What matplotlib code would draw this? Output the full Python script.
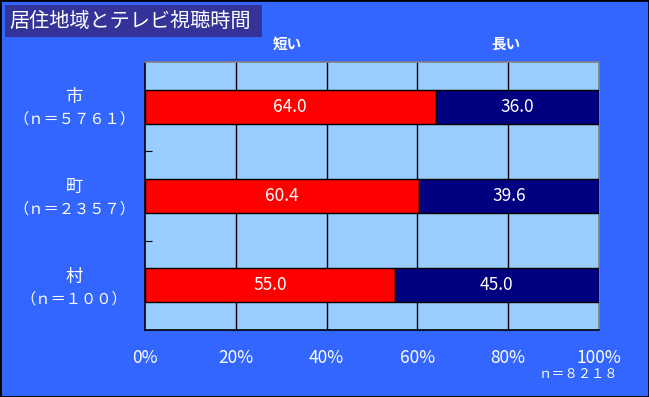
import matplotlib.pyplot as plt
from matplotlib.patches import Rectangle

plt.rcParams['font.family'] = ['Noto Sans CJK JP', 'DejaVu Sans']

# data
areas = ["市", "町", "村"]
counts = ["（ｎ＝５７６１）", "（ｎ＝２３５７）", "（ｎ＝１００）"]
short_vals = [64.0, 60.4, 55.0]
long_vals = [36.0, 39.6, 45.0]
series_names = ["短い", "長い"]
x_ticks = [0, 20, 40, 60, 80, 100]
total_note = "ｎ＝８２１８"
title = "居住地域とテレビ視聴時間"

bg = "#3366FF"
W, H = 649, 397

fig = plt.figure(figsize=(W / 100, H / 100), dpi=100, facecolor=bg)

# frame of the figure
fig.patches.append(Rectangle((0, 0), 1, 1, transform=fig.transFigure,
                             fill=False, edgecolor="black", lw=2))

# title box
fig.patches.append(Rectangle((5 / W, 1 - 37 / H), 257 / W, 32 / H,
                             transform=fig.transFigure, facecolor="#333399",
                             edgecolor="none"))
fig.text(9 / W, 1 - 21 / H, title, color="white", fontsize=14.5,
         va="center", ha="left")

# plot area
ax = fig.add_axes([145 / W, 1 - 330 / H, 454 / W, 268 / H])
ax.set_facecolor("#99CCFF")
ax.set_xlim(0, 100)
ax.set_ylim(2.5, -0.5)

ypos = list(range(len(areas)))
bh = 0.38
ax.barh(ypos, short_vals, height=bh, color="#FF0000", edgecolor="black",
        lw=1, zorder=3)
ax.barh(ypos, long_vals, left=short_vals, height=bh, color="#000080",
        edgecolor="black", lw=1, zorder=3)

for y, s, l in zip(ypos, short_vals, long_vals):
    ax.text(s / 2, y, f"{s:.1f}", color="white", fontsize=12.5,
            ha="center", va="center", zorder=4)
    ax.text(s + l / 2, y, f"{l:.1f}", color="white", fontsize=12.5,
            ha="center", va="center", zorder=4)

for x in x_ticks[1:-1]:
    ax.axvline(x, color="black", lw=1, zorder=1)

for side in ["left", "bottom"]:
    ax.spines[side].set_color("black")
    ax.spines[side].set_linewidth(1.2)
for side in ["top", "right"]:
    ax.spines[side].set_color("#808080")
    ax.spines[side].set_linewidth(1.2)

ax.set_xticks(x_ticks)
ax.set_xticklabels([f"{v}%" for v in x_ticks], color="white", fontsize=12.5)
ax.tick_params(axis="x", length=0, pad=14)
ax.set_yticks([0.5, 1.5])
ax.set_yticklabels([])
ax.tick_params(axis="y", direction="in", length=5, color="black")

# category labels
for y, a, c in zip(ypos, areas, counts):
    yy = 1 - (108 + 90 * y) / H
    fig.text(74 / W, yy + 11 / H, a, color="white", fontsize=12.5,
             ha="center", va="center")
    fig.text(74 / W, yy - 11 / H, c, color="white", fontsize=11,
             ha="center", va="center")

# series labels
fig.text(287 / W, 1 - 44 / H, series_names[0], color="white", fontsize=10.5,
         fontweight="bold", ha="center", va="center")
fig.text(506 / W, 1 - 44 / H, series_names[1], color="white", fontsize=10.5,
         fontweight="bold", ha="center", va="center")

fig.text(578 / W, 1 - 375 / H, total_note, color="white", fontsize=9.5,
         ha="center", va="center")

fig.savefig("out.png", dpi=100, facecolor=bg)
